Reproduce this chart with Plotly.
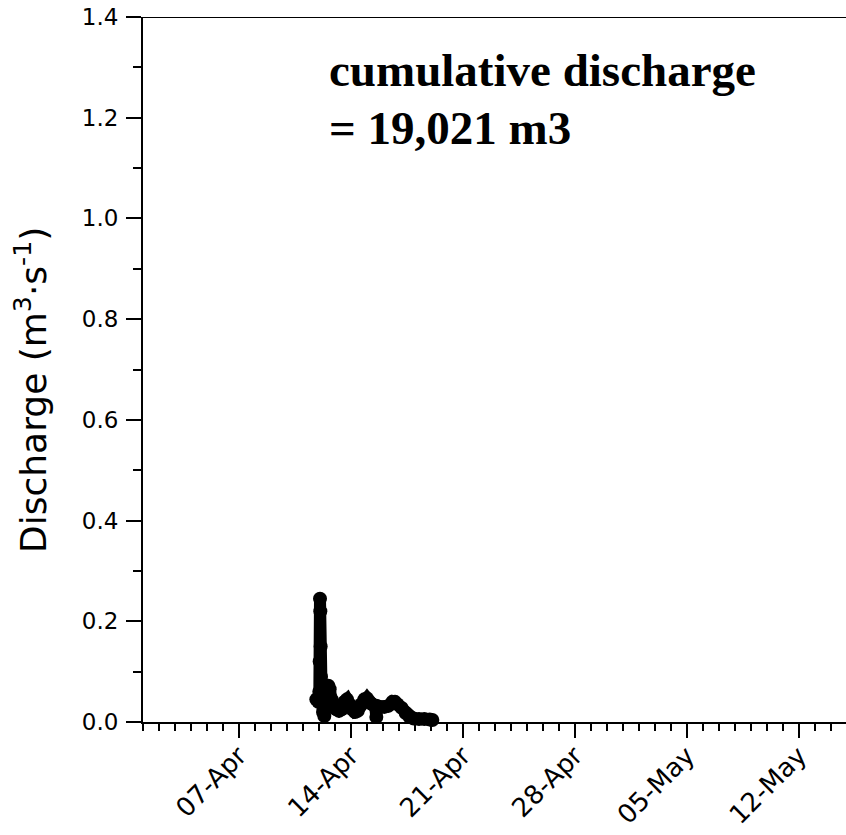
import plotly.graph_objects as go

# Discharge time series
times = [
    "2021-04-11 20:00", "2021-04-11 23:00", "2021-04-12 00:30", "2021-04-12 01:00",
    "2021-04-12 01:30", "2021-04-12 02:00", "2021-04-12 02:30", "2021-04-12 03:00",
    "2021-04-12 04:00", "2021-04-12 06:00", "2021-04-12 08:00", "2021-04-12 10:00",
    "2021-04-12 12:00", "2021-04-12 14:00", "2021-04-12 16:00", "2021-04-12 19:00",
    "2021-04-12 22:00", "2021-04-13 02:00", "2021-04-13 06:00", "2021-04-13 10:00",
    "2021-04-13 14:00", "2021-04-13 18:00", "2021-04-13 22:00", "2021-04-14 02:00",
    "2021-04-14 06:00", "2021-04-14 10:00", "2021-04-14 15:00", "2021-04-14 20:00",
    "2021-04-15 00:00", "2021-04-15 04:00", "2021-04-15 08:00", "2021-04-15 12:00",
    "2021-04-15 14:00", "2021-04-15 15:00", "2021-04-15 20:00", "2021-04-16 02:00",
    "2021-04-16 08:00", "2021-04-16 14:00", "2021-04-16 18:00", "2021-04-16 22:00",
    "2021-04-17 04:00", "2021-04-17 10:00", "2021-04-17 16:00", "2021-04-17 22:00",
    "2021-04-18 06:00", "2021-04-18 14:00", "2021-04-18 22:00", "2021-04-19 02:00",
]
discharge = [
    0.045, 0.040, 0.060, 0.120,
    0.245, 0.220, 0.150, 0.090,
    0.050, 0.020, 0.012, 0.030,
    0.060, 0.072, 0.065, 0.045,
    0.030, 0.025, 0.022, 0.025,
    0.040, 0.045, 0.035, 0.025,
    0.020, 0.022, 0.035, 0.045,
    0.047, 0.040, 0.035, 0.033,
    0.010, 0.032, 0.030, 0.030,
    0.032, 0.040, 0.040, 0.035,
    0.028, 0.018, 0.010, 0.007,
    0.006, 0.006, 0.005, 0.004,
]

x_range = ["2021-04-01 00:00", "2021-05-14 22:30"]
y_range = [0, 1.4]
annot_line1 = "cumulative discharge"
annot_line2 = "= 19,021 m3"
y_title = "Discharge (m<sup>3</sup>·s<sup>-1</sup>)"

SANS = "DejaVu Sans, Liberation Sans, Arial"
SERIF = "Liberation Serif, Times New Roman"

fig = go.Figure()
fig.add_trace(go.Scatter(
    x=times, y=discharge, mode="lines+markers",
    line=dict(color="black", width=12),
    marker=dict(color="black", size=14),
    cliponaxis=False, showlegend=False,
))

fig.update_layout(
    template="none",
    width=846, height=835, autosize=False,
    margin=dict(l=143, r=0, t=17, b=113, pad=0),
    paper_bgcolor="white", plot_bgcolor="white",
    font=dict(family=SANS, size=22, color="black"),
    xaxis=dict(
        type="date", range=x_range, showgrid=False, zeroline=False, automargin=False,
        showline=True, linecolor="black", linewidth=2,
        ticks="outside", ticklen=14, tickwidth=1.5, tickcolor="black",
        tick0="2021-04-07", dtick=7 * 86400000, tickformat="%d-%b", tickangle=-45,
        ticklabelstandoff=-8,
        minor=dict(ticks="outside", ticklen=7, tickwidth=1.5, tickcolor="black",
                   dtick=86400000, tick0="2021-04-01", showgrid=False),
        tickfont=dict(family=SANS, size=26),
    ),
    yaxis=dict(
        range=y_range, showgrid=False, zeroline=False, automargin=False,
        showline=True, linecolor="black", linewidth=2,
        ticks="outside", ticklen=15, tickwidth=1.5, tickcolor="black",
        dtick=0.2, tick0=0, tickformat=".1f", ticklabelstandoff=3,
        minor=dict(ticks="outside", ticklen=8, tickwidth=1.5, tickcolor="black",
                   dtick=0.1, showgrid=False),
        tickfont=dict(family=SANS, size=23),
    ),
    shapes=[dict(type="line", xref="paper", yref="y", x0=0, x1=1, y0=1.4, y1=1.4,
                 line=dict(color="black", width=2))],
)

fig.add_annotation(text="<b>" + annot_line1 + "</b>", xref="paper", yref="paper",
                   x=(327 - 143) / 703, y=1 - (42 - 17) / 705, xanchor="left", yanchor="top",
                   showarrow=False, font=dict(family=SERIF, size=47, color="black"))
fig.add_annotation(text="<b>" + annot_line2 + "</b>", xref="paper", yref="paper",
                   x=(327 - 143) / 703, y=1 - (100 - 17) / 705, xanchor="left", yanchor="top",
                   showarrow=False, font=dict(family=SERIF, size=47, color="black"))
fig.add_annotation(text=y_title, xref="paper", yref="paper",
                   x=(31 - 143) / 703, y=1 - (390 - 17) / 705, xanchor="center", yanchor="middle",
                   textangle=-90, showarrow=False,
                   font=dict(family=SANS, size=36, color="black"))

fig.write_html("out.html")
